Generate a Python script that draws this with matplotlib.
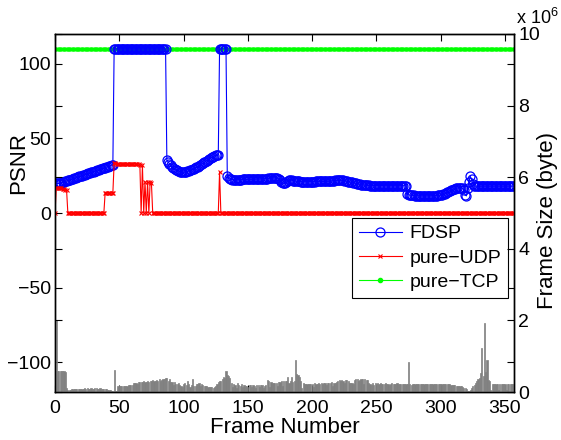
import matplotlib
matplotlib.use("Agg")
import matplotlib.pyplot as plt
import numpy as np

plt.rcParams["font.family"] = ["Liberation Sans", "DejaVu Sans"]
plt.rcParams["mathtext.fontset"] = "custom"
plt.rcParams["mathtext.rm"] = "Liberation Sans"

# PSNR per frame (dB); 110 = lossless cap
fdsp_psnr = (
    [20.2, 20.0, 19.8, 19.8, 20.0, 20.3, 20.6, 20.9, 21.2, 21.5,
     21.8, 22.1, 22.4, 22.7, 23.0, 23.3, 23.6, 23.9, 24.2, 24.5,
     24.8, 25.1, 25.4, 25.7, 26.0, 26.3, 26.6, 26.9, 27.2, 27.5,
     27.8, 28.1, 28.4, 28.7, 29.0, 29.3, 29.6, 29.9, 30.2, 30.5,
     30.8, 31.1, 31.4, 31.7, 32.0, 32.5]
    + [110.0] * 41
    + [35.5, 34.2, 33.0, 32.0, 31.1, 30.3, 29.6, 29.0, 28.5, 28.1,
       27.8, 27.6, 27.4, 27.3, 27.4, 27.6, 27.9, 28.2, 28.6, 29.0,
       29.4, 29.8, 30.2, 30.6, 31.1, 31.6, 32.1, 32.7, 33.3, 33.9,
       34.5, 35.1, 35.7, 36.3, 36.9, 37.4, 37.8, 38.2, 38.6, 38.9,
       39.2]
    + [110.0] * 6
    + [24.7, 23.5,
       22.6, 22.5, 22.4, 22.4, 22.3, 22.3, 22.3, 22.4, 22.4, 22.4,
       22.5, 22.5, 22.5, 22.5,
       22.6, 22.6, 22.6, 22.6, 22.7, 22.7, 22.7, 22.8, 22.8, 22.8,
       22.9, 22.9, 23.0, 23.0, 23.1, 23.1, 23.2, 23.3, 23.4, 23.5,
       23.6, 23.6, 23.5, 23.3, 22.8, 22.0, 21.0, 20.2, 19.8, 19.9,
       20.5, 21.3, 22.0, 22.2, 22.0, 21.7, 21.5, 21.4, 21.3, 21.2,
       21.2, 21.1, 21.0, 21.0, 21.0, 21.0, 21.0, 21.1, 21.1, 21.1,
       21.1, 21.1, 21.1, 21.2, 21.2, 21.2, 21.2, 21.2, 21.2, 21.2,
       21.2, 21.2, 21.3, 21.3, 21.4, 21.5, 21.6, 21.7, 21.8, 21.9,
       22.0, 22.0, 22.0, 21.9, 21.8, 21.7, 21.5, 21.3, 21.1, 20.9,
       20.7, 20.5, 20.3, 20.1, 19.9, 19.7, 19.5, 19.3, 19.1, 18.9,
       18.8, 18.7, 18.6, 18.5, 18.5, 18.4, 18.4, 18.4, 18.4, 18.4,
       18.4, 18.4, 18.4, 18.4, 18.4, 18.4, 18.3, 18.3, 18.3, 18.3,
       18.3, 18.3, 18.3, 18.3, 18.3, 18.3, 18.3, 18.3, 18.3, 18.3,
       18.3, 18.3, 18.3, 18.2,
       12.6, 12.2, 12.0, 11.9, 11.8, 11.8, 11.7, 11.7, 11.6, 11.6,
       11.6, 11.5, 11.5, 11.5, 11.5, 11.5, 11.5, 11.5, 11.5, 11.6,
       11.6, 11.6, 11.7, 11.7, 11.8, 11.9, 12.0,
       12.2, 12.5, 12.9, 13.3, 13.8, 14.3, 14.8, 15.3, 15.7, 16.0,
       16.3, 16.5, 16.7, 16.8, 16.9, 17.0, 16.5, 15.5,
       12.0, 11.5, 17.0, 21.0, 24.5, 22.5, 19.5,
       18.2, 18.0, 18.0, 18.0, 18.0, 18.0, 18.0, 18.0, 18.0, 18.0,
       18.0, 18.0, 18.0, 18.0, 18.0, 18.0, 18.0, 18.0, 18.0, 18.0,
       18.0, 18.0, 18.0, 18.0, 18.0, 18.0, 18.0, 18.0, 18.0, 18.0,
       18.0, 18.0]
)

udp_psnr = (
    [0.0,
     17.0, 17.0, 16.8, 16.5, 16.5, 16.2, 16.0, 15.6, 15.3]
    + [0.0] * 29
    + [13.5, 13.5, 13.5, 13.5, 13.5, 13.5, 13.5]
    + [33.5, 33.3, 33.0, 33.0, 32.8, 32.8, 32.8, 32.7, 32.7, 32.7,
       32.7, 32.7, 32.8, 32.8, 32.8, 32.9, 32.9, 33.0, 33.0, 33.0,
       32.5]
    + [0.0, 32.0, 0.0, 21.0, 0.0, 21.0, 0.0, 21.0, 20.0]
    + [0.0] * 52
    + [27.5]
    + [0.0] * 229
)

tcp_psnr = [110.0] * 358

# frame size, units of 1e6 bytes
frame_size = [
    0.60, 2.0,
    0.58, 0.60, 0.59, 0.60, 0.60, 0.58, 0.57,
    0.12, 0.06, 0.05, 0.06, 0.08, 0.08, 0.08, 0.07, 0.08, 0.08,
    0.08, 0.09, 0.08, 0.07, 0.10, 0.08, 0.11, 0.09, 0.08, 0.10,
    0.09, 0.08, 0.10, 0.10, 0.09, 0.09, 0.10, 0.08, 0.09, 0.09,
    0.08, 0.07, 0.06, 0.06, 0.05, 0.04,
    0.04, 0.61, 0.03, 0.03,
    0.17, 0.17, 0.18, 0.18, 0.18, 0.18, 0.18, 0.18, 0.19, 0.19, 0.19, 0.20,
    0.25, 0.26, 0.26, 0.22, 0.27, 0.27, 0.27, 0.28, 0.30, 0.27, 0.29, 0.31, 0.29, 0.31,
    0.30, 0.33, 0.31, 0.32, 0.33, 0.30, 0.35, 0.31, 0.34, 0.36, 0.37, 0.38, 0.40, 0.32, 0.36, 0.29,
    0.28, 0.20, 0.27, 0.22, 0.22, 0.25, 0.20, 0.18, 0.14, 0.21,
    0.25, 0.19, 0.32, 0.22, 0.13, 0.20, 0.35, 0.16, 0.18, 0.22, 0.21, 0.24,
    0.18, 0.22, 0.20, 0.17, 0.16, 0.17, 0.15, 0.14, 0.13, 0.13, 0.12, 0.15,
    0.18, 0.22, 0.28, 0.32, 0.30, 0.36, 0.42, 0.40, 0.58, 0.47, 0.45, 0.40, 0.24,
    0.15, 0.22, 0.20, 0.12, 0.24, 0.20, 0.16, 0.22, 0.13, 0.20,
    0.18, 0.17, 0.13, 0.20, 0.20, 0.13, 0.19, 0.17, 0.12, 0.20,
    0.19, 0.14, 0.19, 0.19, 0.12, 0.17, 0.20,
    0.33, 0.32,
    0.15, 0.27, 0.26, 0.25, 0.25, 0.26, 0.17, 0.27, 0.28, 0.30,
    0.18, 0.30, 0.30, 0.32, 0.42, 0.26,
    0.32, 0.42, 0.27, 0.30, 0.89, 0.50, 0.48, 0.42, 0.30, 0.12,
    0.24, 0.22, 0.23, 0.23, 0.22, 0.22, 0.22, 0.23, 0.15, 0.24,
    0.23, 0.23, 0.24, 0.23, 0.24, 0.22, 0.24, 0.25, 0.20, 0.25,
    0.24, 0.24, 0.27, 0.18, 0.24, 0.25, 0.28, 0.30, 0.33, 0.32,
    0.33, 0.30, 0.26, 0.34, 0.33, 0.31, 0.25, 0.25, 0.24, 0.22,
    0.33, 0.35, 0.36, 0.30,
    0.34, 0.35, 0.35, 0.22, 0.35, 0.33, 0.34, 0.24, 0.23, 0.20, 0.24, 0.20, 0.26,
    0.23, 0.24, 0.22, 0.24, 0.22, 0.23, 0.22, 0.24, 0.22, 0.23,
    0.20, 0.22, 0.24, 0.21, 0.23, 0.22, 0.24, 0.22, 0.21, 0.22,
    0.21, 0.22, 0.22, 0.22, 0.23,
    0.85,
    0.22, 0.20, 0.22, 0.23, 0.22, 0.21, 0.22, 0.22, 0.22, 0.22,
    0.21, 0.22, 0.22, 0.21, 0.21, 0.21, 0.22, 0.22, 0.22, 0.22,
    0.22, 0.23, 0.23, 0.23, 0.23, 0.23, 0.23, 0.23, 0.22, 0.22, 0.21,
    0.21, 0.20, 0.20, 0.19, 0.19, 0.18, 0.18, 0.17, 0.17, 0.16,
    0.15, 0.12, 0.10, 0.07, 0.04, 0.02,
    0.06, 0.10, 0.16, 0.20, 0.26, 0.30, 0.35, 0.40, 0.52,
    1.24, 0.45, 1.94, 0.55, 0.88, 0.34, 0.30,
    0.05, 0.22, 0.22, 0.22, 0.21, 0.22, 0.05, 0.22, 0.22, 0.22,
    0.22, 0.22, 0.05, 0.22, 0.22, 0.22, 0.22, 0.22, 0.22,
]

assert len(fdsp_psnr) == len(udp_psnr) == len(tcp_psnr) == len(frame_size)
frames = np.arange(len(fdsp_psnr))

fig = plt.figure(figsize=(5.61, 4.40), dpi=100)
ax = fig.add_axes([55 / 561, 48 / 440, 459 / 561, 358 / 440])
ax2 = ax.twinx()

ax2.bar(frames, frame_size, width=0.9, color="0.5", edgecolor="0.5",
        linewidth=0.5)

ax.plot(frames, tcp_psnr, color=(0, 1, 0), marker=".", ms=4, lw=0.8, zorder=1)
l_fdsp, = ax.plot(frames, fdsp_psnr, color="b", marker="o", mfc="none",
                  ms=6.5, mew=0.9, lw=0.8, zorder=2)
l_udp, = ax.plot(frames, udp_psnr, color="r", marker="x", ms=3.5, mew=0.8,
                 lw=0.8, zorder=3)
l_tcp, = ax.plot([], [], color=(0, 1, 0), marker=".", ms=6, lw=0.8)

ax.set_xlim(0, 357)
ax.set_ylim(-120, 120)
ax.set_xticks(range(0, 351, 50))
ax.set_yticks([-100, -50, 0, 50, 100])
ax.tick_params(direction="in", top=True, right=True, labelright=False,
               length=5, width=0.8, labelsize=14, pad=3)
ax.tick_params(axis="x", pad=6)
ax.set_xlabel("Frame Number", fontsize=16, labelpad=0)
ax.set_ylabel("PSNR", fontsize=16)
ax.yaxis.set_label_coords(-0.056, 0.64)

ax2.set_ylim(0, 10)
ax2.set_yticks(range(0, 11, 2))
ax2.yaxis.set_ticks_position("both")
ax2.tick_params(direction="in", labelleft=False, labelright=True,
                length=5, width=0.8, labelsize=14, pad=3)
ax2.set_ylabel("Frame Size (byte)", fontsize=16)
ax2.yaxis.set_label_coords(1.05, 0.48)
fig.text(516 / 561, 1 - 24 / 440, r"x 10$^6$", fontsize=13, va="baseline")

for a in (ax, ax2):
    for s in a.spines.values():
        s.set_linewidth(1.0)

leg = ax.legend([l_fdsp, l_udp, l_tcp], ["FDSP", "pure\u2212UDP", "pure\u2212TCP"],
                loc="upper right", bbox_to_anchor=(0.987, 0.486), fontsize=14,
                fancybox=False, edgecolor="k", framealpha=1, handlelength=2.2,
                borderpad=0.35, labelspacing=0.35, handletextpad=0.4,
                borderaxespad=0)
leg.get_frame().set_linewidth(0.8)

fig.savefig("out.png", dpi=100)
